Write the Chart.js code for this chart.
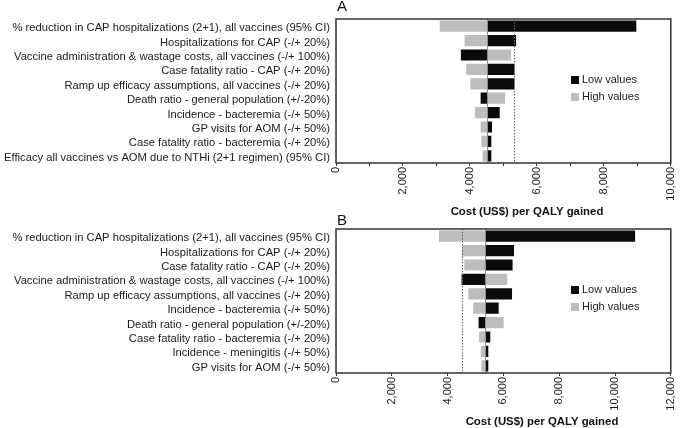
<!DOCTYPE html>
<html>
<head>
<meta charset="utf-8">
<title>Tornado charts</title>
<script src="https://cdn.jsdelivr.net/npm/chart.js@4/dist/chart.umd.min.js"></script>
<style>
	body { margin:0; background:#fff; }
	#wrap { position:relative; width:685px; height:428px; overflow:hidden; }
	.panel { position:absolute; left:0; width:685px; height:222px; }
	#panelA { top:0; }
	#panelB { top:206px; }
</style>
</head>
<body>
<div id="wrap">
	<div class="panel" id="panelA"><canvas id="chartA" width="685" height="222"></canvas></div>
	<div class="panel" id="panelB"><canvas id="chartB" width="685" height="222"></canvas></div>
</div>
<script>
var seriesNames = ['Low values', 'High values'];
var axisTitle = 'Cost (US$) per QALY gained';

// panel A
var categoriesA = [
	'% reduction in CAP hospitalizations (2+1), all vaccines (95% CI)',
	'Hospitalizations for CAP (-/+ 20%)',
	'Vaccine administration & wastage costs, all vaccines (-/+ 100%)',
	'Case fatality ratio - CAP (-/+ 20%)',
	'Ramp up efficacy assumptions, all vaccines (-/+ 20%)',
	'Death ratio - general population (+/-20%)',
	'Incidence - bacteremia (-/+ 50%)',
	'GP visits for AOM (-/+ 50%)',
	'Case fatality ratio - bacteremia (-/+ 20%)',
	'Efficacy all vaccines vs AOM due to NTHi (2+1 regimen) (95% CI)'
];
var lowA  = [8970, 5380, 3730, 5330, 5330, 4320, 4890, 4660, 4640, 4640];
var highA = [3100, 3840, 5230, 3890, 4010, 5050, 4150, 4320, 4340, 4380];
var baseA = 4510;
var refA = 5330;
var xMaxA = 10000;

// panel B
var categoriesB = [
	'% reduction in CAP hospitalizations (2+1), all vaccines (95% CI)',
	'Hospitalizations for CAP (-/+ 20%)',
	'Case fatality ratio - CAP (-/+ 20%)',
	'Vaccine administration & wastage costs, all vaccines (-/+ 100%)',
	'Ramp up efficacy assumptions, all vaccines (-/+ 20%)',
	'Incidence - bacteremia (-/+ 50%)',
	'Death ratio - general population (+/-20%)',
	'Case fatality ratio - bacteremia (-/+ 20%)',
	'Incidence - meningitis (-/+ 50%)',
	'GP visits for AOM (-/+ 50%)'
];
var lowB  = [10720, 6380, 6330, 4500, 6310, 5830, 5110, 5530, 5460, 5460];
var highB = [3690, 4510, 4600, 6140, 4740, 4920, 6010, 5130, 5190, 5210];
var baseB = 5340;
var refB = 4510;
var xMaxB = 12000;

!(function(){
	'use strict';

	var FONT = '"Liberation Sans", Arial, Helvetica, sans-serif';
	var BLACK = '#0b0b0b';
	var GREY = '#bdbdbd';

	Chart.defaults.font.family = FONT;
	Chart.defaults.color = '#1a1a1a';

	// baseline, reference line, frame, panel letter, axis title and legend
	var panelPlugin = {
		id: 'panel',
		afterDatasetsDraw: function(chart, args, opts){
			var ctx = chart.ctx;
			var a = chart.chartArea;
			var x = chart.scales.x;
			var xb = Math.round(x.getPixelForValue(opts.base)) + 0.5;
			var xr = Math.round(x.getPixelForValue(opts.ref)) + 0.5;
			ctx.save();

			ctx.strokeStyle = '#8c8c8c';
			ctx.lineWidth = 1;
			ctx.beginPath();
			ctx.moveTo(xb, a.top);
			ctx.lineTo(xb, a.bottom);
			ctx.stroke();

			ctx.strokeStyle = '#666';
			ctx.setLineDash([1.5, 1.5]);
			ctx.beginPath();
			ctx.moveTo(xr, a.top);
			ctx.lineTo(xr, a.bottom);
			ctx.stroke();
			ctx.setLineDash([]);

			ctx.strokeStyle = '#333';
			ctx.lineWidth = 1.5;
			ctx.strokeRect(a.left, a.top, a.right - a.left, a.bottom - a.top);

			ctx.fillStyle = '#111';
			ctx.textBaseline = 'middle';
			ctx.textAlign = 'left';
			ctx.font = '15px ' + FONT;
			ctx.fillText(opts.letter, a.left + 1, a.top + opts.letterDy);

			// axis title (sits right of centre in the original)
			ctx.textAlign = 'center';
			ctx.font = 'bold 11.4px ' + FONT;
			ctx.fillText(axisTitle, a.left + opts.titleDx, a.bottom + 49);

			// legend
			ctx.textAlign = 'left';
			ctx.font = '11px ' + FONT;
			chart.data.datasets.forEach(function(ds, i){
				var ly = a.top + 61 + i * 17;
				ctx.fillStyle = ds.backgroundColor;
				ctx.fillRect(a.left + 235, ly - 4, 8, 8);
				ctx.fillStyle = '#1a1a1a';
				ctx.fillText(ds.label, a.left + 246, ly);
			});
			ctx.restore();
		}
	};

	function makeChart(id, cats, low, high, base, ref, xMax, step, p){
		var ctx = document.getElementById(id).getContext('2d');
		return new Chart(ctx, {
			type: 'bar',
			data: {
				labels: cats,
				datasets: [{
					label: seriesNames[0],
					data: low.map(function(v){ return [base, v]; }),
					backgroundColor: BLACK,
					borderWidth: 0,
					grouped: false,
					barPercentage: 0.78,
					categoryPercentage: 1
				}, {
					label: seriesNames[1],
					data: high.map(function(v){ return [base, v]; }),
					backgroundColor: GREY,
					borderWidth: 0,
					grouped: false,
					barPercentage: 0.78,
					categoryPercentage: 1
				}]
			},
			options: {
				indexAxis: 'y',
				responsive: false,
				animation: false,
				layout: { padding: { top: p.top, right: 7, left: 0, bottom: 0 } },
				plugins: {
					legend: { display: false },
					tooltip: { enabled: false },
					panel: { base: base, ref: ref, letter: p.letter, letterDy: p.letterDy, titleDx: p.titleDx }
				},
				scales: {
					x: {
						min: 0,
						max: xMax,
						border: { display: false },
						grid: { drawOnChartArea: false, drawTicks: true, tickLength: 3, color: '#333' },
						ticks: {
							stepSize: step,
							autoSkip: false,
							maxRotation: 90,
							minRotation: 90,
							padding: 1,
							font: { size: 11 },
							callback: function(v){ return v % 2000 === 0 ? v.toLocaleString('en-US') : ''; }
						},
						afterFit: function(s){ s.height = p.xHeight; }
					},
					y: {
						border: { display: false },
						grid: { display: false, drawTicks: false },
						ticks: { autoSkip: false, padding: 6, labelOffset: 2, font: { size: 11.2 } },
						afterFit: function(s){ s.width = 336; }
					}
				}
			},
			plugins: [panelPlugin]
		});
	}

	makeChart('chartA', categoriesA, lowA, highA, baseA, refA, xMaxA, 1000,
		{ letter: 'A', letterDy: -12, top: 19, xHeight: 59, titleDx: 191 });
	makeChart('chartB', categoriesB, lowB, highB, baseB, refB, xMaxB, 2000,
		{ letter: 'B', letterDy: -8, top: 23, xHeight: 55, titleDx: 206 });
})();
</script>
</body>
</html>
